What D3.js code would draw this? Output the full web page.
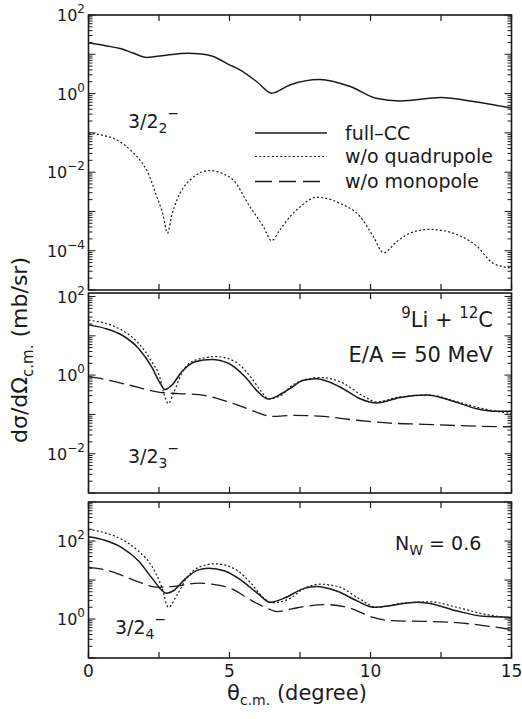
<!DOCTYPE html>
<html><head><meta charset="utf-8">
<script src="https://cdn.jsdelivr.net/npm/d3@7"></script>
<style>
body{margin:0;background:#fff;}
text{font-family:"DejaVu Sans",sans-serif;fill:#1a1a1a;}
</style></head><body>
<svg id="chart" width="522" height="719"></svg>
<script>
// ---------------- data ----------------
const xTickValues = [0, 2.5, 5, 7.5, 10, 12.5, 15];
const xTickLabels = [0, 5, 10, 15];
const seriesNames = ["full\u2013CC", "w/o quadrupole", "w/o monopole"];

// 3/2_2^- panel
const topFullTheta = [0,0.65,1.12,1.58,2.06,2.8,3.5,4.0,4.4,5.0,5.37,5.97,6.5,7.14,8.2,9.28,10.2,11.05,12.5,13.65,15];
const topFull      = [19.7,16.3,14.0,10.8,8.3,9.6,10.6,10.2,8.9,5.4,4.0,2.0,1.02,1.66,2.29,1.51,0.76,0.65,0.79,0.63,0.43];
const topQuadTheta = [0,0.5,1.0,1.5,1.83,2.1,2.42,2.65,2.8,2.95,3.13,3.6,4.31,4.8,5.13,5.73,6.2,6.49,6.79,7.15,7.5,8.1,8.92,9.63,10.1,10.46,10.93,11.4,12.1,12.93,13.77,14.35,15];
const topQuad      = [0.098,0.087,0.066,0.036,0.020,0.010,0.0024,0.00079,0.00028,0.00079,0.0019,0.0063,0.011,0.0089,0.0063,0.0013,0.00041,0.00018,0.00034,0.00074,0.0013,0.0023,0.0016,0.00074,0.00023,0.000089,0.00017,0.00028,0.00035,0.00028,0.00013,0.000048,0.000036];

// 3/2_3^- panel
const midFullTheta = [0,0.58,1.18,1.77,2.24,2.54,2.71,2.95,3.30,3.78,4.37,4.96,5.55,6.02,6.38,6.85,7.15,7.62,8.09,8.92,9.63,10.22,11.05,11.99,12.82,13.77,14.47,15];
const midFull      = [19,15.5,10.5,4.8,1.62,0.62,0.43,0.55,1.2,2.19,2.5,2.0,0.91,0.37,0.245,0.34,0.46,0.74,0.81,0.5,0.25,0.195,0.27,0.31,0.23,0.14,0.12,0.12];
const midQuadTheta = [0,0.58,1.18,1.77,2.24,2.54,2.66,2.83,3.01,3.30,3.78,4.55,5.2,5.79,6.14,6.38,6.85,7.15,7.62,8.21,9.04,9.69,10.22,11.05,12.1,13.06,14.0,15];
const midQuad      = [25,21,14,6.5,2.2,0.83,0.37,0.19,0.34,1.1,2.4,2.95,2.2,0.83,0.37,0.25,0.31,0.5,0.74,0.87,0.62,0.31,0.21,0.28,0.31,0.21,0.14,0.105];
const midMonoTheta = [0,0.58,1.18,1.77,2.48,3.19,3.9,4.61,5.32,6.02,6.5,7.3,8.33,9.51,10.7,11.88,13.06,15];
const midMono      = [0.91,0.78,0.62,0.49,0.37,0.34,0.32,0.25,0.17,0.11,0.089,0.095,0.089,0.071,0.060,0.056,0.052,0.048];

// 3/2_4^- panel
const botFullTheta = [0,0.58,1.18,1.77,2.24,2.76,3.01,3.42,3.9,4.25,4.84,5.44,6.02,6.44,6.97,7.62,8.09,8.8,9.51,10.1,10.7,11.64,12.1,13.06,14.0,15];
const botFull      = [129,105,68,31,11.5,4.6,5.3,10.5,18.2,20,17,9.5,4.4,2.7,3.5,6.0,6.8,5.2,2.95,2.0,2.2,2.7,2.5,1.62,1.17,1.10];
const botQuadTheta = [0,0.58,1.18,1.77,2.24,2.6,2.83,3.13,3.49,3.9,4.49,5.2,5.79,6.26,6.5,7.09,7.62,8.21,8.92,9.63,10.22,11.05,12.1,13.06,14.0,15];
const botQuad      = [200,162,110,55,23,6.5,2.0,4.0,11.5,21,26,19,7.8,3.2,2.6,3.2,5.9,7.8,6.5,3.2,2.0,2.5,2.75,2.0,1.35,1.05];
const botMonoTheta = [0,0.58,1.18,1.77,2.48,3.19,3.9,4.37,5.08,5.79,6.38,6.68,7.21,7.68,8.33,9.16,10.1,10.7,11.88,13.06,14.0,15];
const botMono      = [21,18.2,13.2,8.9,6.5,7.1,8.3,7.8,5.9,2.95,1.82,1.55,1.82,2.1,2.35,2.0,1.1,0.91,0.87,0.81,0.68,0.54];

// ---------------- drawing ----------------
const ink = "#1a1a1a";
const svg = d3.select("#chart");
const x = d3.scaleLinear().domain([0, 15]).range([88.5, 511.5]);

const styles = {
  solid: {w: 1.5, dash: null},
  dot:   {w: 1.2, dash: "2,2.2"},
  dash:  {w: 1.3, dash: "15,6"}
};

const panels = [
  {y0: 15, y1: 290, lo: 1e-5, hi: 1e2, labels: [2, 0, -2, -4],
   series: [[topFullTheta, topFull, "solid"], [topQuadTheta, topQuad, "dot"]]},
  {y0: 293, y1: 493, lo: 1e-3, hi: Math.pow(10, 2.09), labels: [2, 0, -2],
   series: [[midMonoTheta, midMono, "dash"], [midQuadTheta, midQuad, "dot"], [midFullTheta, midFull, "solid"]]},
  {y0: 502, y1: 658, lo: 1e-1, hi: 1e3, labels: [2, 0],
   series: [[botMonoTheta, botMono, "dash"], [botQuadTheta, botQuad, "dot"], [botFullTheta, botFull, "solid"]]}
];

function powText(sel, xp, yp, exp, anchor, size, supSize, raise) {
  const t = sel.append("text").attr("x", xp).attr("y", yp)
    .attr("text-anchor", anchor).style("font-size", size + "px");
  t.append("tspan").text("10");
  t.append("tspan").attr("dy", -raise).style("font-size", supSize + "px")
    .text(exp < 0 ? "\u2212" + (-exp) : String(exp));
  return t;
}

panels.forEach((p, i) => {
  const y = d3.scaleLog().domain([p.lo, p.hi]).range([p.y1, p.y0]);
  const g = svg.append("g");
  const clipId = "clip" + i;
  svg.append("clipPath").attr("id", clipId).append("rect")
    .attr("x", x(0)).attr("y", p.y0).attr("width", x(15) - x(0)).attr("height", p.y1 - p.y0);

  const lo = Math.floor(Math.log10(p.lo)), hi = Math.ceil(Math.log10(p.hi));
  for (let e = lo; e <= hi; e++) {
    for (let k = 1; k <= 9; k++) {
      const v = k * Math.pow(10, e);
      if (v < p.lo * 0.999 || v > p.hi * 1.001) continue;
      const len = k === 1 ? 7 : 4;
      const yy = y(v);
      g.append("line").attr("x1", x(0)).attr("x2", x(0) + len).attr("y1", yy).attr("y2", yy)
        .attr("stroke", ink).attr("stroke-width", 1);
      g.append("line").attr("x1", x(15)).attr("x2", x(15) - len).attr("y1", yy).attr("y2", yy)
        .attr("stroke", ink).attr("stroke-width", 1);
    }
  }
  xTickValues.forEach(t => {
    g.append("line").attr("x1", x(t)).attr("x2", x(t)).attr("y1", p.y0).attr("y2", p.y0 + 6)
      .attr("stroke", ink).attr("stroke-width", 1.2);
    g.append("line").attr("x1", x(t)).attr("x2", x(t)).attr("y1", p.y1).attr("y2", p.y1 - 6)
      .attr("stroke", ink).attr("stroke-width", 1.2);
  });
  g.append("rect").attr("x", x(0)).attr("y", p.y0).attr("width", x(15) - x(0)).attr("height", p.y1 - p.y0)
    .attr("fill", "none").attr("stroke", ink).attr("stroke-width", 1.6);
  p.labels.forEach(e => powText(g, 85, y(Math.pow(10, e)) + 6, e, "end", 16, 12, 8));

  const line = d3.line().x(d => x(d[0])).y(d => y(d[1])).curve(d3.curveMonotoneX);
  const cg = g.append("g").attr("clip-path", "url(#" + clipId + ")");
  p.series.forEach(([th, vals, st]) => {
    const s = styles[st];
    cg.append("path").datum(th.map((t, j) => [t, vals[j]]))
      .attr("d", line).attr("fill", "none").attr("stroke", ink)
      .attr("stroke-width", s.w).attr("stroke-dasharray", s.dash);
  });
});

// x tick labels
xTickLabels.forEach(t => {
  svg.append("text").attr("x", x(t)).attr("y", 677).attr("text-anchor", "middle")
    .style("font-size", "17px").text(t);
});
// x axis title
const xt = svg.append("text").attr("x", 297).attr("y", 700).attr("text-anchor", "middle").style("font-size", "21px");
xt.append("tspan").text("\u03b8");
xt.append("tspan").attr("dy", 5).style("font-size", "14px").text("c.m.");
xt.append("tspan").attr("dy", -5).text(" (degree)");

// y axis title
const yt = svg.append("text").attr("transform", "translate(27,350) rotate(-90)")
  .attr("text-anchor", "middle").style("font-size", "22px");
yt.append("tspan").text("d\u03c3/d\u03a9");
yt.append("tspan").attr("dy", 6).style("font-size", "15px").text("c.m.");
yt.append("tspan").attr("dy", -6).text(" (mb/sr)");

// state labels
function stateLabel(xp, yp, sub) {
  const t = svg.append("text").attr("x", xp).attr("y", yp).style("font-size", "19px");
  t.append("tspan").text("3/2");
  t.append("tspan").attr("dy", 5).style("font-size", "14px").text(sub);
  t.append("tspan").attr("dy", -15).style("font-size", "14px").text("\u2212");
}
stateLabel(128, 128, "2");
stateLabel(128, 463, "3");
stateLabel(115, 634, "4");

// legend
const legY = [133, 156.5, 181.5];
const legStyles = ["solid", "dot", "dash"];
seriesNames.forEach((n, i) => {
  const s = styles[legStyles[i]];
  svg.append("line").attr("x1", 255).attr("x2", 327).attr("y1", legY[i]).attr("y2", legY[i])
    .attr("stroke", ink).attr("stroke-width", s.w).attr("stroke-dasharray", i === 2 ? "17,7" : s.dash);
  svg.append("text").attr("x", 345).attr("y", legY[i] + 6.5).style("font-size", "19px").text(n);
});

// reaction label
const r1 = svg.append("text").attr("x", 493).attr("y", 327).attr("text-anchor", "end").style("font-size", "21px");
r1.append("tspan").attr("dy", -9).style("font-size", "15px").text("9");
r1.append("tspan").attr("dy", 9).text("Li + ");
r1.append("tspan").attr("dy", -9).style("font-size", "15px").text("12");
r1.append("tspan").attr("dy", 9).text("C");
svg.append("text").attr("x", 493).attr("y", 362).attr("text-anchor", "end").style("font-size", "21px")
  .text("E/A = 50 MeV");

// N_W label
const nw = svg.append("text").attr("x", 395).attr("y", 550).style("font-size", "19px");
nw.append("tspan").text("N");
nw.append("tspan").attr("dy", 5).style("font-size", "14px").text("W");
nw.append("tspan").attr("dy", -5).text(" = 0.6");
</script>
</body></html>
